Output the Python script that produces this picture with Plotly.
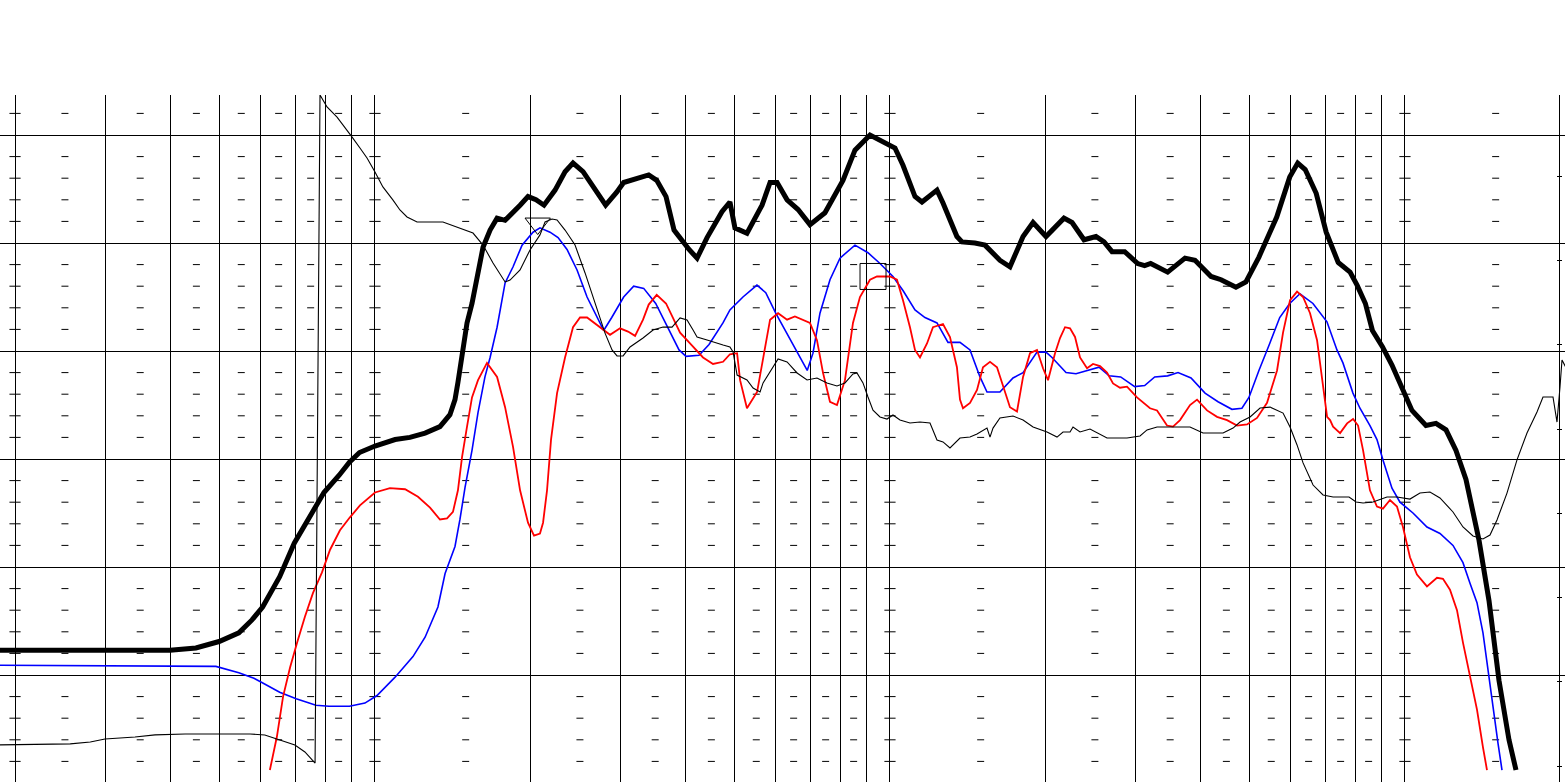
import itertools
import plotly.graph_objects as go

# ---------------- data ----------------
# Thick black: on-axis SPL (dB)
spl_f = [18, 40, 44.9, 49.8, 54.4, 57.7, 60.5, 65.3, 69.7, 74.5, 79.6, 85.2, 89.2, 93.3, 100, 109.4,
         116.9, 125.1, 133.7, 139.8, 143.0, 144.9, 147.6, 150.9, 154.3, 157.8, 162.1, 167.3, 172.6,
         178.9, 185.4, 191.3, 198.2, 205.4, 212.9, 223.7, 233.9, 242.4, 253.5, 273.5, 280.5, 294.7,
         304.0, 340.0, 352.4, 367.4, 380.8, 407.2, 422.1, 441.4, 471.8, 488.9, 500, 527.6, 564.4,
         585.0, 603.6, 631.2, 663.0, 699.3, 747.7, 810.4, 855.1, 914.5, 977.9, 1022.6, 1059.9,
         1118.3, 1153.8, 1233.9, 1267.5, 1349, 1380, 1462, 1529, 1635, 1710, 1813, 1896, 2009,
         2177, 2257, 2381, 2512, 2604, 2699, 2856, 3027, 3123, 3208, 3461, 3740, 3911, 4202, 4394,
         4697, 4911, 5205, 5636, 5973, 6191, 6401, 6724, 7031, 7419, 7823, 8072, 8378, 8645, 9040,
         9435, 9867, 10318, 10985, 11487, 12013, 12562, 13136, 13922, 14559, 15225, 15922, 16428]
spl_db = [52.3, 52.3, 52.5, 53.1, 53.9, 55.1, 56.3, 59.1, 62.2, 64.6, 66.9, 68.5, 69.7, 70.6, 71.2, 71.8,
          72.0, 72.4, 73.0, 74.1, 75.5, 77.1, 79.4, 82.6, 84.4, 86.9, 89.6, 91.2, 92.3,
          92.1, 92.8, 93.5, 94.3, 94.0, 93.5, 94.9, 96.6, 97.4, 96.6, 94.3, 93.5, 94.7,
          95.6, 96.3, 95.8, 94.3, 91.2, 89.4, 88.6, 90.5, 92.9, 93.8, 91.4, 90.9, 93.5,
          95.6, 95.6, 94.0, 93.1, 91.7, 92.8, 95.8, 98.6, 100.0, 99.3, 98.8, 97.2,
          94.3, 93.8, 94.9, 93.7, 90.6, 90.1, 90.0, 89.8, 88.4, 87.8, 90.6, 91.9, 90.6,
          92.3, 91.9, 90.3, 90.6, 90.1, 89.2, 89.2, 88.1, 87.9, 88.1, 87.3, 88.6, 88.4, 86.9, 86.6,
          85.9, 86.4, 88.7, 92.4, 96.1, 97.4, 96.8, 94.6, 91.0, 88.2, 87.3, 86.1, 84.4, 81.9, 80.4,
          78.7, 76.7, 74.5, 73.1, 73.3, 72.7, 70.8, 68.1, 62.5, 56.9, 49.5, 44.0, 41.2]

# Blue curve (dB)
blue_f = [18, 49.1, 54.4, 58.2, 60.3, 65.3, 70.3, 76.8, 81.4, 89.2, 95.6, 100.9, 109.4, 118.5, 125.1,
          132.5, 136.8, 143.0, 146.2, 149.6, 154.3, 158.5, 163.5, 167.3, 172.6, 178.9, 185.4, 193.0,
          202.7, 209.1, 218.7, 226.7, 236.0, 246.8, 258.1, 269.9, 278.0, 288.2, 304.0, 317.9, 332.5,
          350.8, 372.4, 389.4, 401.8, 425.8, 445.3, 473.9, 488.9, 518.2, 551.7, 573.8, 600, 635.9,
          672.4, 690.7, 708.7, 731.2, 764.7, 799.7, 855.1, 906.3, 956.3, 1013.5, 1059.9, 1118.3,
          1169.4, 1233.9, 1296.1, 1367.5, 1430.2, 1495.5, 1543.1, 1635, 1733.4, 1813, 1929.8, 2009,
          2063.6, 2196.9, 2297.4, 2435.0, 2546.3, 2663.8, 2805.3, 2986.5, 3123, 3266.1, 3461, 3625.2,
          3842.4, 4090.5, 4335.2, 4613.1, 4824.2, 4977.6, 5205, 5462.2, 5712.0, 5973, 6252, 6627,
          7055, 7378, 7578, 7925, 8177, 8551, 8823, 9063, 9435, 9779, 10364, 11034, 11694, 12395,
          12961, 13374, 13799, 14174, 14495, 14822, 15157, 15431]
blue_db = [50.9, 50.8, 50.2, 49.7, 49.3, 48.4, 47.8, 47.2, 47.1, 47.1, 47.4, 48.1, 49.8, 51.7, 53.5,
           56.3, 59.4, 61.9, 64.4, 67.4, 70.8, 74.3, 77.6, 79.4, 82.2, 86.3, 87.8, 89.8,
           91.0, 91.4, 91.0, 90.5, 89.4, 87.5, 85.0, 83.1, 81.9, 83.1, 85.0, 86.0, 85.8,
           84.4, 81.9, 80.1, 79.5, 79.6, 80.6, 82.6, 83.8, 85.0, 86.1, 85.4, 83.5, 81.3,
           79.2, 78.2, 79.8, 83.5, 86.6, 88.6, 89.8, 89.1, 88.1, 86.9, 85.6, 83.8,
           83.1, 82.6, 80.8, 80.8, 80.1, 77.6, 76.2, 76.2, 77.5, 78.0, 79.9, 79.9,
           79.4, 78.0, 77.9, 78.2, 78.5, 77.7, 77.6, 76.7, 76.8, 77.6, 77.7, 78.0,
           77.5, 76.1, 75.3, 74.6, 74.7, 75.7, 78.2, 80.7, 83.1, 84.4, 85.3, 84.4,
           82.7, 80.1, 78.9, 76.1, 74.7, 73.1, 71.8, 69.9, 67.3, 66.0, 65.0, 63.7, 63.1, 62.0,
           60.4, 58.5, 56.7, 53.9, 50.5, 46.8, 43.7, 41.2]

# Red curve (dB)
red_f = [62.5, 64.5, 66.3, 68.4, 70.6, 73.1, 75.8, 78.9, 81.8, 85.5, 89.4, 93.5, 100, 106.9, 114.4,
         121.2, 127.9, 133.7, 138.0, 141.7, 144.9, 147.6, 150.9, 154.3, 158.5, 165.0, 172.6, 178.9,
         185.4, 191.3, 198.2, 203.6, 209.1, 212.0, 215.8, 219.7, 225.7, 233.9, 242.4, 250.1, 258.1,
         273.5, 286.0, 299.1, 310.0, 319.9, 331.5, 340.0, 352.4, 367.4, 379.1, 391.2, 409.0, 433.5,
         453.3, 474.1, 488.9, 504.8, 511.6, 527.6, 552.0, 567.0, 585.0, 606.3, 631.2, 653.7, 699.3,
         721.5, 741.1, 764.7, 789.0, 817.7, 847.5, 874.4, 914.5, 943.5, 1000, 1031.8, 1059.9, 1093.5,
         1118.3, 1143.6, 1180.0, 1212.0, 1267.5, 1307.7, 1349, 1367.5, 1386.1, 1430.2, 1475.7,
         1515.7, 1563.9, 1613.6, 1657.5, 1710, 1764.6, 1813, 1870.3, 1929.8, 1982.3, 2027.2, 2091.7,
         2138.9, 2187.3, 2236.8, 2287.3, 2338.9, 2413.3, 2478.9, 2557.7, 2639.0, 2710.7, 2796.9,
         2885.8, 3017.8, 3198.6, 3300.3, 3451.2, 3545.0, 3657.7, 3825.0, 3946.7, 4127.1, 4316.0,
         4513.3, 4719.6, 4935.5, 5161.2, 5397.2, 5644.0, 5797.3, 5981.7, 6171.9, 6340.1, 6541.6,
         6749.7, 6933.0, 7060, 7155, 7251, 7482, 7720, 7929, 8108, 8292, 8479, 8551, 8823, 9063,
         9352, 9649, 9911, 10226, 10551, 11034, 11539, 11852, 12229, 12618, 12961, 13374, 13799,
         14174, 14430]
red_db = [41.2, 44.3, 48.0, 50.7, 53.0, 55.4, 57.6, 59.5, 61.6, 63.4, 64.6, 65.7, 66.9, 67.3, 67.2,
          66.5, 65.5, 64.4, 64.5, 65.1, 67.1, 70.2, 73.0, 75.7, 77.3, 78.9, 77.6, 74.8,
          71.1, 67.1, 64.1, 62.9, 63.1, 64.1, 67.1, 71.8, 76.1, 79.4, 82.2, 83.1, 83.1,
          82.2, 81.5, 82.1, 81.8, 81.4, 82.9, 84.3, 85.2, 84.4, 83.1, 81.7, 80.7, 79.4,
          78.8, 79.0, 79.7, 79.8, 77.3, 74.7, 76.2, 79.2, 82.9, 83.5, 82.9, 83.2, 82.6,
          81.0, 78.0, 75.3, 75.0, 77.3, 82.6, 85.0, 86.6, 86.9, 86.9, 86.6, 84.7, 82.2,
          80.1, 79.4, 80.7, 82.2, 82.5, 81.3, 78.5, 75.5, 74.7, 75.2, 76.4,
          78.5, 79.0, 78.5, 76.7, 74.8, 74.4, 77.6, 79.8, 80.1, 78.4, 77.3, 79.8,
          81.2, 82.2, 82.1, 81.3, 79.4, 78.4, 78.8, 78.6, 78.0, 77.0, 76.6,
          76.7, 75.7, 74.7, 74.5, 73.1, 73.0, 73.6, 75.0, 75.5, 74.5, 73.9,
          73.6, 73.1, 73.2, 73.8, 75.2, 78.2, 81.7, 84.7, 85.5, 85.0, 83.5,
          81.0, 76.7, 73.9, 73.6, 73.0, 72.4, 73.3, 73.7, 73.1, 70.8, 68.1, 67.1, 65.6, 65.4,
          66.2, 65.6, 63.7, 60.9, 59.3, 58.2, 59.0, 58.9, 57.9, 56.0, 53.0, 49.8, 46.8,
          43.3, 41.2]

# Thin black: phase (degrees, right axis)
phase_f = [18, 25.6, 28.0, 29.9, 34.2, 37.4, 42.8, 57.2, 61.1, 65.4, 69.9, 73.1, 76.5, 78.2, 80.7,
           84.4, 87.4, 90.2, 93.5, 96.5, 100, 103.6, 108.4, 111.8, 115.4, 120.7, 135.5, 144.3, 155.0,
           162.1, 169.5, 178.9, 182.9, 191.3, 200.0, 209.1, 213.9, 220.7, 225.7, 233.9, 244.6, 255.8,
           267.5, 279.7, 288.6, 295.1, 303.2, 312.8, 331.5, 346.7, 362.5, 377.4, 391.2, 403.6, 414.6,
           422.1, 441.4, 453.3, 474.1, 488.9, 495.8, 504.8, 527.6, 542.2, 559.4, 567.0, 585.0, 606.3,
           631.2, 660.1, 690.2, 721.5, 754.5, 789.0, 817.7, 847.5, 862.8, 886.3, 906.3, 926.8, 956.3,
           986.7, 1013.5, 1045.7, 1093.5, 1143.6, 1195.9, 1233.9, 1267.5, 1307.7, 1367.5, 1430.2,
           1475.7, 1543.1, 1563.9, 1585.1, 1635, 1733.4, 1813, 1896, 2018, 2110.4, 2167.6, 2236.8,
           2266.8, 2338.9, 2445.8, 2523.6, 2639.0, 2885.8, 3058.7, 3156.0, 3300.3, 3825.0, 4054.2,
           4433.5, 4636.5, 4784.0, 5002.6, 5231.3, 5470.3, 5797.9, 5981.7, 6171.9, 6340.1, 6630,
           6933, 7251, 7788, 8036, 8292, 8667, 9227, 9649, 10226, 10694, 11183, 11694, 12395, 12961,
           13554, 14174, 14625, 15090, 15779, 16502, 17257, 18046, 18537, 19384, 19734, 20000,
           20180, 20800]
phase_deg = [-168.7, -168.1, -167.1, -165.5, -164.4, -163.3, -162.8, -162.8, -163.3, -166.0, -168.7,
             -172.4, -178.3, 178.3, 171.9, 166.5, 161.2, 155.9, 150.0, 144.7, 137.2, 129.2, 122.2,
             116.9, 113.2, 110.5, 110.5, 107.8, 104.6, 98.2, 88.6, 78.5, 79.5, 84.9, 95.6, 103.6,
             110.5, 112.1, 111.6, 106.2, 98.2, 83.3, 67.3, 51.2, 42.2, 39.0, 39.0, 43.8, 48.6, 52.8,
             54.4, 54.4, 59.3, 58.2, 52.8, 49.1, 47.5, 46.4, 44.8, 43.8, 41.1, 28.8, 26.2, 21.9,
             19.8, 24.6, 30.4, 37.4, 35.8, 29.9, 26.2, 27.2, 24.6, 23.0, 24.6, 29.4, 29.9, 24.6,
             17.1, 10.1, 6.4, 5.3, 7.5, 4.8, 3.2, 3.7, 3.2, -5.9, -6.9, -10.1, -4.8, -4.3, -2.7,
             0.5, -4.3, 0.5, 5.9, 6.9, 4.8, 1.1, -1.6, -4.3, -1.6, -1.6, 1.1, -1.6, 0.0, -2.1, -4.8,
             -4.8, -3.7, -0.5, 1.1, 1.1, -2.1, -2.1, 0.5, 3.7, 6.4, 11.2, 11.7, 8.5, 1.1, -8.5, -18.1,
             -29.9, -35.2, -36.3, -36.3, -39.0, -39.5, -39.0, -36.3, -36.3, -37.4, -34.2, -33.6,
             -36.8, -44.3, -52.3, -57.1, -58.7, -56.6, -48.6, -34.2, -16.5, -2.1, 9.1, 17.1, 17.1,
             3.7, 22.4, 36.8, 29.9]

# Peak markers
tri_f, tri_db = [207], [91.8]
sq_f, sq_db = [927], [86.9]

# Grid / ticks
grid_freqs = [20, 30, 40, 50, 60, 70, 80, 90, 100, 200, 300, 400, 500, 600, 700, 800, 900,
              1000, 2000, 3000, 4000, 5000, 6000, 7000, 8000, 9000, 10000, 20000]
grid_db = [40, 50, 60, 70, 80, 90, 100]
minor_db = [42, 44, 46, 48, 52, 54, 56, 58, 62, 64, 66, 68, 72, 74, 76, 78, 82, 84, 86, 88,
            92, 94, 96, 98, 102]
dash_freqs = [25, 35, 45, 55, 65, 75, 85, 150, 250, 350, 450, 550, 650, 750, 850,
              1500, 2500, 3500, 4500, 5500, 6500, 7500, 8500, 15000]
cross_freqs = [20, 100, 1000, 10000]
phase_ticks = [-180, -135, -90, -45, 0, 45, 90, 135]

# ---------------- figure ----------------
fig = go.Figure()

dx, dy = zip(*itertools.product(dash_freqs, minor_db))
fig.add_trace(go.Scatter(x=list(dx), y=list(dy), mode='markers',
                         marker=dict(symbol='line-ew', size=5, line=dict(width=1, color='black')),
                         hoverinfo='skip'))
cx, cy = zip(*itertools.product(cross_freqs, minor_db))
fig.add_trace(go.Scatter(x=list(cx), y=list(cy), mode='markers',
                         marker=dict(symbol='line-ew', size=8, line=dict(width=1, color='black')),
                         hoverinfo='skip'))

fig.add_trace(go.Scatter(x=blue_f, y=blue_db, mode='lines', line=dict(color='#0000ff', width=1.6)))
fig.add_trace(go.Scatter(x=red_f, y=red_db, mode='lines', line=dict(color='#ff0000', width=1.8)))
fig.add_trace(go.Scatter(x=spl_f, y=spl_db, mode='lines', line=dict(color='black', width=5)))
fig.add_trace(go.Scatter(x=tri_f, y=tri_db, mode='markers',
                         marker=dict(symbol='triangle-down-open', size=22, color='black',
                                     line=dict(width=1, color='black'))))
fig.add_trace(go.Scatter(x=sq_f, y=sq_db, mode='markers',
                         marker=dict(symbol='square-open', size=26, color='black',
                                     line=dict(width=1, color='black'))))
fig.add_trace(go.Scatter(x=phase_f, y=phase_deg, mode='lines', yaxis='y2',
                         line=dict(color='black', width=1.1)))

W, H = 1565, 782
top_px = 95
fig.update_layout(
    width=W, height=H,
    margin=dict(l=0, r=0, t=0, b=0),
    paper_bgcolor='white', plot_bgcolor='white',
    showlegend=False, hovermode=False,
    xaxis=dict(type='log', range=[1.27184, 4.31075], tickmode='array', tickvals=grid_freqs,
               showticklabels=False, ticks='', showgrid=True, gridcolor='black', gridwidth=1,
               zeroline=False, showline=False),
    yaxis=dict(domain=[0, (H - top_px) / H], range=[40.093, 103.704], tickmode='array',
               tickvals=grid_db, showticklabels=False, ticks='', showgrid=True,
               gridcolor='black', gridwidth=1, zeroline=False, showline=False),
    yaxis2=dict(overlaying='y', side='right', anchor='free', position=1562 / W,
                range=[-188.43, 178.29], tickmode='array', tickvals=phase_ticks,
                ticks='inside', ticklen=5, tickcolor='black', tickwidth=1,
                showticklabels=False, showgrid=False, zeroline=False, showline=False),
)

fig.write_html("out.html", config={'displayModeBar': False},
               post_script="document.body.style.margin='0';document.body.style.overflow='hidden';")
